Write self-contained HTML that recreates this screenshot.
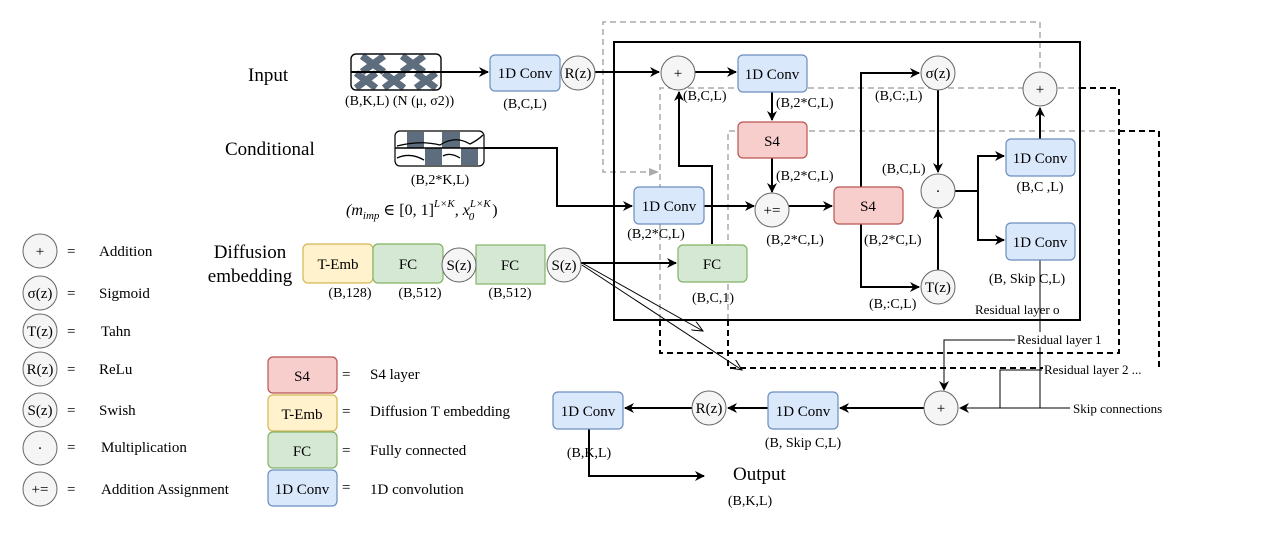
<!DOCTYPE html>
<html><head><meta charset="utf-8"><style>
html,body{margin:0;padding:0;background:#fff;}
svg{display:block;font-family:"Liberation Serif","DejaVu Serif",serif;}
</style></head><body>
<svg width="1265" height="549" viewBox="0 0 1265 549" xmlns="http://www.w3.org/2000/svg">
<defs>
<marker id="a" markerWidth="10" markerHeight="10" refX="9" refY="5" orient="auto" markerUnits="userSpaceOnUse"><path d="M0,0 L10,5 L0,10 L3,5 z" fill="#000"/></marker>
<marker id="o" markerWidth="12" markerHeight="10" refX="11" refY="5" orient="auto" markerUnits="userSpaceOnUse"><path d="M0,0 L11,5 L0,10" fill="none" stroke="#000" stroke-width="1"/></marker>
<marker id="g" markerWidth="10" markerHeight="10" refX="9" refY="5" orient="auto" markerUnits="userSpaceOnUse"><path d="M0,1 L10,5 L0,9 z" fill="#aaa"/></marker>
</defs>

<!-- gray dashed -->
<g fill="none" stroke="#aaa" stroke-width="1.5" stroke-dasharray="6,4">
<path d="M1040,88 L1040,22 L603,22 L603,172 L658,172" marker-end="url(#g)"/>
<path d="M660,320 L660,88 L1080,88"/>
<path d="M728,320 L728,131 L1119,131"/>
</g>
<!-- black dashed -->
<g fill="none" stroke="#000" stroke-width="2" stroke-dasharray="6,4">
<path d="M1080,88 L1119,88 L1119,353 L660,353 L660,320"/>
<path d="M1119,131 L1159,131 L1159,368 L728,368 L728,320"/>
</g>

<!-- main box -->
<rect x="614" y="42" width="466" height="278" fill="none" stroke="#000" stroke-width="2"/>
<text x="975" y="314" font-size="13">Residual layer o</text>

<!-- connectors -->
<g fill="none" stroke="#000" stroke-width="2">
<path d="M351,72 L488,72" marker-end="url(#a)"/>
<path d="M595,72 L659,72" marker-end="url(#a)"/>
<path d="M695,72 L736,72" marker-end="url(#a)"/>
<path d="M772,92 L772,120" marker-end="url(#a)"/>
<path d="M772,158 L772,192" marker-end="url(#a)"/>
<path d="M484,148 L557,148 L557,206 L632,206" marker-end="url(#a)"/>
<path d="M704,206 L754,206" marker-end="url(#a)"/>
<path d="M712,244 L712,166 L679,166 L679,92" marker-end="url(#a)"/>
<path d="M789,206 L832,206" marker-end="url(#a)"/>
<path d="M861,187 L861,73 L919,73" marker-end="url(#a)"/>
<path d="M861,224 L861,287 L919,287" marker-end="url(#a)"/>
<path d="M938,90 L938,172" marker-end="url(#a)"/>
<path d="M938,270 L938,210" marker-end="url(#a)"/>
<path d="M955,191 L978,191 L978,156 L1004,156" marker-end="url(#a)"/>
<path d="M978,191 L978,240 L1004,240" marker-end="url(#a)"/>
<path d="M1040,139 L1040,108" marker-end="url(#a)"/>
<path d="M581,263 L676,263" marker-end="url(#a)"/>
<path d="M924,408 L840,408" marker-end="url(#a)"/>
<path d="M768,408 L728,408" marker-end="url(#a)"/>
<path d="M692,408 L625,408" marker-end="url(#a)"/>
<path d="M589,428 L589,476 L704,476" marker-end="url(#a)"/>
</g>
<g fill="none" stroke="#000" stroke-width="1">
<path d="M582,263 L703,331" marker-end="url(#o)"/>
<path d="M582,265 L742,370" marker-end="url(#o)"/>
<path d="M1040,260 L1040,408"/>
<path d="M1070,408 L960,408" marker-end="url(#a)"/>
<path d="M1015,340 L944,340 L944,390" marker-end="url(#a)"/>
<path d="M1042,370 L1000,370 L1000,408"/>
</g>

<!-- input hatched -->
<rect x="351" y="54" width="90" height="36" rx="5" fill="#fff" stroke="#000" stroke-width="1.2"/>
<g stroke="#5d6d7e" stroke-width="7">
<path d="M362,56 L384,72 M384,56 L362,72 M402,56 L424,72 M424,56 L402,72"/>
<path d="M356,88 L376,73 M376,88 L356,73 M384,88 L404,73 M404,88 L384,73 M416,88 L436,73 M436,88 L416,73"/>
</g>
<rect x="351" y="54" width="90" height="36" rx="5" fill="none" stroke="#000" stroke-width="1.2"/>
<line x1="351" y1="72" x2="441" y2="72" stroke="#000" stroke-width="2"/>

<!-- conditional -->
<rect x="395" y="131" width="89" height="35" rx="5" fill="#fff" stroke="#000" stroke-width="1.2"/>
<g fill="#5d6d7e">
<rect x="407" y="132" width="17" height="16"/><rect x="442" y="132" width="18" height="16"/>
<rect x="425" y="148" width="17" height="17"/><rect x="461" y="148" width="17" height="17"/>
</g>
<path d="M397,146 Q420,140 440,145 Q455,135 470,144 Q478,140 483,135 M397,158 Q410,152 424,160 M443,156 Q450,152 460,158" fill="none" stroke="#000" stroke-width="1.3"/>
<line x1="395" y1="148" x2="484" y2="148" stroke="#000" stroke-width="1.5"/>

<!-- boxes -->
<g stroke-width="1.2">
<rect x="490" y="55" width="70" height="36" rx="5" fill="#dae8fc" stroke="#6c8ebf"/>
<rect x="738" y="55" width="69" height="37" rx="5" fill="#dae8fc" stroke="#6c8ebf"/>
<rect x="738" y="122" width="69" height="36" rx="5" fill="#f8cecc" stroke="#b85450"/>
<rect x="634" y="187" width="70" height="37" rx="5" fill="#dae8fc" stroke="#6c8ebf"/>
<rect x="834" y="187" width="69" height="37" rx="5" fill="#f8cecc" stroke="#b85450"/>
<rect x="678" y="245" width="69" height="37" rx="5" fill="#d5e8d4" stroke="#82b366"/>
<rect x="1006" y="139" width="69" height="37" rx="5" fill="#dae8fc" stroke="#6c8ebf"/>
<rect x="1006" y="223" width="69" height="37" rx="5" fill="#dae8fc" stroke="#6c8ebf"/>
<rect x="303" y="244" width="70" height="39" rx="5" fill="#fff2cc" stroke="#d6b656"/>
<rect x="373" y="244" width="70" height="39" rx="5" fill="#d5e8d4" stroke="#82b366"/>
<rect x="476" y="245" width="69" height="39" fill="#d5e8d4" stroke="#82b366"/>
<rect x="768" y="392" width="70" height="37" rx="5" fill="#dae8fc" stroke="#6c8ebf"/>
<rect x="553" y="392" width="70" height="37" rx="5" fill="#dae8fc" stroke="#6c8ebf"/>
<rect x="268" y="357" width="69" height="36" rx="5" fill="#f8cecc" stroke="#b85450"/>
<rect x="268" y="395" width="69" height="36" rx="5" fill="#fff2cc" stroke="#d6b656"/>
<rect x="268" y="432" width="69" height="36" rx="5" fill="#d5e8d4" stroke="#82b366"/>
<rect x="268" y="470" width="69" height="36" rx="5" fill="#dae8fc" stroke="#6c8ebf"/>
</g>
<g font-size="15" text-anchor="middle">
<text x="525" y="78">1D Conv</text>
<text x="772" y="79">1D Conv</text>
<text x="772" y="146">S4</text>
<text x="669" y="211">1D Conv</text>
<text x="868" y="211">S4</text>
<text x="712" y="269">FC</text>
<text x="1040" y="163">1D Conv</text>
<text x="1040" y="247">1D Conv</text>
<text x="338" y="269">T-Emb</text>
<text x="408" y="269">FC</text>
<text x="510" y="270">FC</text>
<text x="803" y="416">1D Conv</text>
<text x="588" y="416">1D Conv</text>
<text x="302" y="381">S4</text>
<text x="302" y="419">T-Emb</text>
<text x="302" y="456">FC</text>
<text x="302" y="494">1D Conv</text>
</g>

<!-- circles -->
<g fill="#f5f5f5" stroke="#666" stroke-width="1">
<circle cx="578" cy="73" r="17"/><circle cx="678" cy="73" r="17"/>
<circle cx="772" cy="210" r="17"/><circle cx="938" cy="73" r="17"/>
<circle cx="938" cy="191" r="17"/><circle cx="938" cy="287" r="17"/>
<circle cx="1040" cy="89" r="17"/><circle cx="459" cy="265" r="17"/>
<circle cx="564" cy="265" r="17"/><circle cx="941" cy="408" r="17"/>
<circle cx="709" cy="408" r="17"/>
<circle cx="40" cy="251" r="17"/><circle cx="40" cy="293" r="17"/><circle cx="40" cy="331" r="17"/>
<circle cx="40" cy="369" r="17"/><circle cx="40" cy="410" r="17"/><circle cx="40" cy="448" r="17"/>
<circle cx="40" cy="489" r="17"/>
</g>
<g font-size="15" text-anchor="middle">
<text x="578" y="78">R(z)</text><text x="678" y="78">+</text>
<text x="772" y="215">+=</text><text x="938" y="78">σ(z)</text>
<text x="938" y="196">·</text><text x="938" y="292">T(z)</text>
<text x="1040" y="94">+</text><text x="459" y="270">S(z)</text>
<text x="564" y="270">S(z)</text><text x="941" y="413">+</text>
<text x="709" y="413">R(z)</text>
<text x="40" y="256">+</text><text x="40" y="298">σ(z)</text><text x="40" y="336">T(z)</text>
<text x="40" y="374">R(z)</text><text x="40" y="415">S(z)</text><text x="40" y="453">·</text>
<text x="40" y="494">+=</text>
</g>

<!-- legend text -->
<g font-size="15">
<text x="67" y="256">=</text><text x="99" y="256">Addition</text>
<text x="67" y="298">=</text><text x="99" y="298">Sigmoid</text>
<text x="67" y="336">=</text><text x="101" y="336">Tahn</text>
<text x="67" y="374">=</text><text x="99" y="374">ReLu</text>
<text x="67" y="415">=</text><text x="99" y="415">Swish</text>
<text x="67" y="452">=</text><text x="101" y="452">Multiplication</text>
<text x="67" y="494">=</text><text x="101" y="494">Addition Assignment</text>
<text x="342" y="379">=</text><text x="370" y="379">S4 layer</text>
<text x="342" y="416">=</text><text x="370" y="416">Diffusion T embedding</text>
<text x="342" y="455">=</text><text x="370" y="455">Fully connected</text>
<text x="342" y="492">=</text><text x="370" y="494">1D convolution</text>
</g>

<!-- titles -->
<g font-size="19">
<text x="248" y="81">Input</text>
<text x="225" y="155">Conditional</text>
<text x="250" y="258" text-anchor="middle">Diffusion</text>
<text x="250" y="282" text-anchor="middle">embedding</text>
<text x="733" y="480">Output</text>
</g>

<!-- dims -->
<g font-size="14">
<text x="345" y="105">(B,K,L)  (N (μ, σ2))</text>
<text x="525" y="108" text-anchor="middle">(B,C,L)</text>
<text x="440" y="184" text-anchor="middle">(B,2*K,L)</text>
<text x="346" y="215" font-size="16" font-style="italic">(m<tspan font-size="11" dy="4">imp</tspan><tspan dy="-4" font-style="normal"> ∈ [0, 1]</tspan><tspan font-size="11" dy="-8">L×K</tspan><tspan dy="8">, x</tspan><tspan font-size="11" dy="-8">L×K</tspan><tspan font-size="11" dx="-22" dy="13">0</tspan><tspan dx="18" dy="-5" font-style="normal">)</tspan></text>
<text x="350" y="297" text-anchor="middle">(B,128)</text>
<text x="420" y="297" text-anchor="middle">(B,512)</text>
<text x="510" y="297" text-anchor="middle">(B,512)</text>
<text x="683" y="100">(B,C,L)</text>
<text x="776" y="107">(B,2*C,L)</text>
<text x="776" y="180">(B,2*C,L)</text>
<text x="656" y="238" text-anchor="middle">(B,2*C,L)</text>
<text x="795" y="244" text-anchor="middle">(B,2*C,L)</text>
<text x="864" y="244">(B,2*C,L)</text>
<text x="713" y="302" text-anchor="middle">(B,C,1)</text>
<text x="875" y="100">(B,C:,L)</text>
<text x="882" y="173">(B,C,L)</text>
<text x="869" y="308">(B,:C,L)</text>
<text x="1040" y="191" text-anchor="middle">(B,C ,L)</text>
<text x="1027" y="283" text-anchor="middle">(B, Skip C,L)</text>
<text x="803" y="447" text-anchor="middle">(B, Skip C,L)</text>
<text x="589" y="457" text-anchor="middle">(B,K,L)</text>
<text x="750" y="505" text-anchor="middle">(B,K,L)</text>
</g>
<g font-size="13">
<rect x="1016" y="332" width="100" height="15" fill="#fff"/>
<text x="1017" y="344">Residual layer 1</text>
<rect x="1043" y="362" width="115" height="15" fill="#fff"/>
<text x="1044" y="374">Residual layer 2 ...</text>
<text x="1073" y="413">Skip connections</text>
</g>
</svg>
</body></html>
